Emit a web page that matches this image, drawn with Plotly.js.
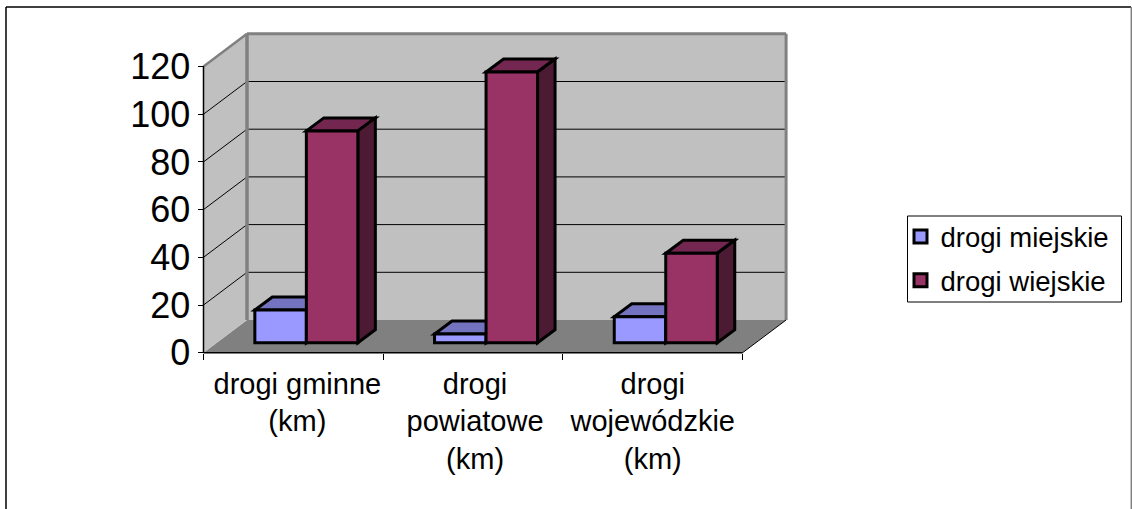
<!DOCTYPE html>
<html><head><meta charset="utf-8">
<script src="https://cdn.plot.ly/plotly-3.0.1.min.js"></script>
<style>html,body{margin:0;padding:0;background:#fff}#c{width:1132px;height:509px}</style>
</head><body><div id="c"></div>
<script>
const categories = ["drogi gminne<br>(km)", "drogi<br>powiatowe<br>(km)", "drogi<br>wojewódzkie<br>(km)"];
const urbanRoads = [13.7, 3.6, 10.9];
const ruralRoads = [88.8, 113.5, 37.5];
const seriesNames = ["drogi miejskie", "drogi wiejskie"];
const yTicks = [0, 20, 40, 60, 80, 100, 120];

const W = 1132, H = 509;
const pxX = 179.7, pxY = 2.385;          // pixels per category / per unit
const zeroX = 203.5, zeroY = 352.7;      // pixel of the axes' origin
const plot = {l: 196, r: 795, t: 25, b: 360};
const wallDX = 43.5 / pxX, wallDY = 32.7 / pxY;
const frontDX = 13 / pxX, frontDY = 10 / pxY;
const depthX = 17.5 / pxX, depthY = 13 / pxY;
const barW = 51.5 / pxX;
const labelNudge = [4, 2, 0];            // px, label placement along the axis
const nCat = categories.length, yMax = yTicks[yTicks.length - 1];

const centers = categories.map((_, i) => i + 0.5);
const poly = pts => "M" + pts.map(p => p[0] + "," + p[1]).join("L") + "Z";
const xyShape = (path, fill, lineColor, lineWidth) => ({
  type: "path", xref: "x", yref: "y", layer: "below", path,
  fillcolor: fill, line: {color: lineColor || "rgba(0,0,0,0)", width: lineWidth || 0}
});
const seg = (x0, y0, x1, y1, color, width) => ({
  type: "line", xref: "x", yref: "y", layer: "below", x0, y0, x1, y1, line: {color, width}
});

const shapes = [];
// floor, left wall, back wall
shapes.push(xyShape(poly([[0,0],[nCat,0],[nCat+wallDX,wallDY],[wallDX,wallDY]]), "#808080"));
shapes.push(xyShape(poly([[0,0],[wallDX,wallDY],[wallDX,wallDY+yMax],[0,yMax]]), "#C0C0C0"));
shapes.push(xyShape(poly([[wallDX,wallDY],[nCat+wallDX,wallDY],[nCat+wallDX,wallDY+yMax],[wallDX,wallDY+yMax]]), "#C0C0C0"));
// gridlines on the walls
yTicks.slice(1, -1).forEach(v => {
  shapes.push(seg(0, v, wallDX, v + wallDY, "#000", 1));
  shapes.push(seg(wallDX, v + wallDY, nCat + wallDX, v + wallDY, "#000", 1));
});
// wall edges
shapes.push(seg(0, yMax, wallDX, yMax + wallDY, "#808080", 2.5));
shapes.push(seg(wallDX, yMax + wallDY, nCat + wallDX, yMax + wallDY, "#808080", 3));
shapes.push(seg(wallDX, wallDY, wallDX, yMax + wallDY, "#808080", 3.5));
shapes.push(seg(nCat + wallDX, wallDY, nCat + wallDX, yMax + wallDY, "#808080", 3));
// axis lines
shapes.push(seg(0, 0, 0, yMax, "#000", 1.5));
shapes.push(seg(0, 0, nCat, 0, "#000", 1.5));
shapes.push(seg(nCat, 0, nCat + wallDX, wallDY, "#000", 1));

// top and side faces of the bars
function faces(vals, left, top, side) {
  vals.forEach((v, i) => {
    const x0 = centers[i] + left, x1 = x0 + barW;
    const y0 = frontDY, y1 = frontDY + v;
    shapes.push(xyShape(poly([[x0,y1],[x1,y1],[x1+depthX,y1+depthY],[x0+depthX,y1+depthY]]), top, "#000", 3));
    shapes.push(xyShape(poly([[x1,y0],[x1+depthX,y0+depthY],[x1+depthX,y1+depthY],[x1,y1]]), side, "#000", 3));
  });
}
const leftA = frontDX - barW, leftB = frontDX;
faces(urbanRoads, leftA, "#7373BF", "#4C4C80");
faces(ruralRoads, leftB, "#732650", "#4D1A33");

// chart frame and legend box, in paper coordinates
const pw = plot.r - plot.l, ph = plot.b - plot.t;
const fx = px => (px - plot.l) / pw, fy = py => (plot.b - py) / ph;
shapes.push({type:"line", xref:"paper", yref:"paper", x0:fx(6), x1:fx(6), y0:fy(7), y1:fy(509), line:{color:"#000",width:1.5}});
shapes.push({type:"line", xref:"paper", yref:"paper", x0:fx(6), x1:fx(1131), y0:fy(7), y1:fy(7), line:{color:"#000",width:1.5}});
shapes.push({type:"line", xref:"paper", yref:"paper", x0:fx(1131.3), x1:fx(1131.3), y0:fy(7), y1:fy(509), line:{color:"#808080",width:1.5}});
shapes.push({type:"rect", xref:"paper", yref:"paper", layer:"below", x0:fx(907.5), x1:fx(1121.5), y0:fy(302), y1:fy(216), fillcolor:"#fff", line:{color:"#000",width:1}});

const barTrace = (vals, name, color, offset) => ({
  type: "bar", x: centers, y: vals, name,
  base: frontDY, width: barW, offset, showlegend: false, hoverinfo: "skip",
  marker: {color, line: {color: "#000", width: 3}}
});
const keyTrace = (name, color, group) => ({
  type: "scatter", mode: "markers", x: [null], y: [null], name, legendgroup: group,
  hoverinfo: "skip", marker: {symbol: "square", size: 13, color, line: {color: "#000", width: 3}}
});

const traces = [
  barTrace(urbanRoads, seriesNames[0], "#9999FF", leftA),
  barTrace(ruralRoads, seriesNames[1], "#993366", leftB),
  keyTrace(seriesNames[0], "#9999FF", "a"),
  keyTrace(seriesNames[1], "#993366", "b")
];

const layout = {
  width: W, height: H,
  paper_bgcolor: "#fff", plot_bgcolor: "rgba(0,0,0,0)",
  margin: {l: plot.l, r: W - plot.r, t: plot.t, b: H - plot.b, pad: 0},
  font: {family: "Liberation Sans, Arial, sans-serif", color: "#000"},
  barmode: "overlay",
  shapes,
  showlegend: true,
  legend: {
    x: fx(900.5), y: fy(212), xanchor: "left", yanchor: "top",
    bgcolor: "rgba(0,0,0,0)", borderwidth: 0,
    font: {size: 27.5, color: "#000"}, tracegroupgap: 5, traceorder: "grouped"
  },
  xaxis: {
    range: [(plot.l - zeroX) / pxX, (plot.r - zeroX) / pxX],
    anchor: "free", position: fy(zeroY),
    tickmode: "array", tickvals: centers.map((c, i) => c + labelNudge[i] / pxX), ticktext: categories,
    ticks: "outside", ticklen: 5, tickcolor: "rgba(0,0,0,0)",
    tickfont: {size: 29}, tickangle: 0,
    showgrid: false, zeroline: false, showline: false,
    minor: {tickmode: "array", tickvals: categories.concat([""]).map((_, i) => i), ticks: "outside", ticklen: 6, tickwidth: 1, tickcolor: "#000", showgrid: false}
  },
  yaxis: {
    range: [(zeroY - plot.b) / pxY, (zeroY - plot.t) / pxY],
    anchor: "free", position: fx(zeroX),
    tickmode: "array", tickvals: yTicks, ticktext: yTicks.map(String),
    ticks: "outside", ticklen: 6, tickwidth: 1, tickcolor: "#000",
    tickfont: {size: 36},
    showgrid: false, zeroline: false, showline: false
  }
};
Plotly.newPlot("c", traces, layout, {displayModeBar: false, staticPlot: true});
</script></body></html>
